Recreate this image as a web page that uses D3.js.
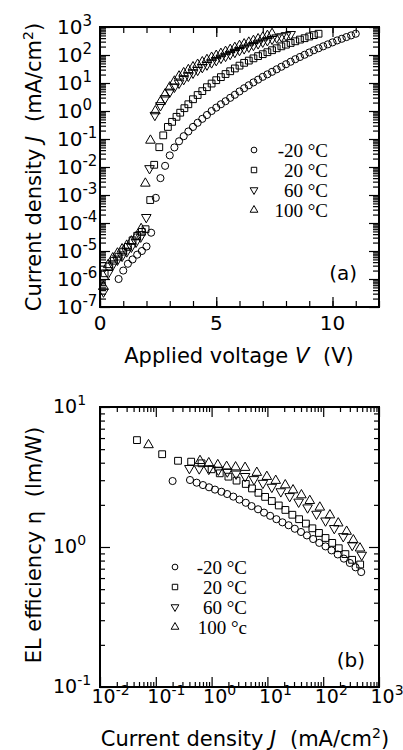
<!DOCTYPE html>
<html>
<head>
<meta charset="utf-8">
<style>
  body {
    margin: 0px;
    background-color: white;
  }
  svg {
    display: block;
  }
  text {
    font-family: "DejaVu Sans", sans-serif;
    fill: black;
  }
  .serif {
    font-family: "Liberation Serif", "Times New Roman", serif;
  }
</style>
<script src="https://d3js.org/d3.v7.min.js"></script>
</head>
<body>
<svg width="403" height="750"></svg>
<script>
// (a) J-V data: [applied voltage V, current density mA/cm2]
const ivM20 = [[0.8,1.0e-6],[1.0,2.0e-6],[1.2,3.5e-6],[1.4,5.0e-6],[1.6,7.4e-6],[1.8,1.0e-5],[2.0,1.45e-5],
  [2.2,4.5e-5],[2.4,7.9e-4],[2.6,4.0e-3],[2.8,1.1e-2],[3.0,2.6e-2],[3.2,5.0e-2],[3.4,8.3e-2],[3.6,0.126],
  [3.8,0.186],[4.0,0.27],[4.2,0.38],[4.4,0.525],[4.6,0.72],[4.8,1.0],[5.0,1.32],[5.2,1.74],[5.4,2.24],
  [5.6,2.95],[5.8,3.8],[6.0,5.0],[6.2,6.5],[6.4,8.3],[6.6,10.5],[6.8,13.2],[7.0,16.6],[7.2,20.4],[7.4,25.1],
  [7.6,30.9],[7.8,38],[8.0,46.8],[8.2,57.5],[8.4,70.8],[8.6,85],[8.8,102],[9.0,123],[9.2,148],[9.4,174],
  [9.6,204],[9.8,240],[10.0,282],[10.2,331],[10.4,380],[10.6,437],[10.8,501],[11.0,575]];
const iv20 = [[0.2,1.6e-6],[0.4,2.8e-6],[0.6,4.5e-6],[0.8,6.3e-6],[1.0,9.5e-6],[1.2,1.4e-5],[1.4,2.4e-5],
  [1.6,3.5e-5],[1.8,4.8e-5],[1.96,6.0e-5],[2.16,6.6e-4],[2.33,1.2e-2],[2.55,5.1e-2],[2.72,0.135],[2.92,0.27],
  [3.1,0.41],[3.29,0.62],[3.45,0.87],[3.63,1.26],[3.8,1.74],[4.0,2.63],[4.2,3.72],[4.4,5.13],[4.6,7.08],
  [4.8,9.55],[5.0,12.6],[5.2,16.2],[5.4,20.9],[5.6,26.3],[5.8,33.1],[6.0,41.7],[6.2,52.5],[6.4,63.1],
  [6.6,75.9],[6.8,91.2],[7.0,107],[7.2,126],[7.4,148],[7.6,174],[7.8,204],[8.0,234],[8.2,269],[8.4,309],
  [8.6,355],[8.8,398],[9.0,457],[9.2,513],[9.4,575]];
const iv60 = [[0.15,3.5e-7],[0.35,1.6e-6],[0.55,3.2e-6],[0.75,4.8e-6],[0.95,6.6e-6],[1.15,9.5e-6],[1.35,1.4e-5],
  [1.55,2.1e-5],[1.75,3.2e-5],[1.99,1.6e-4],[2.13,8.9e-3],[2.36,0.71],[2.6,1.58],[2.8,2.82],[3.0,4.8],
  [3.2,7.2],[3.4,10],[3.6,13.5],[3.8,17.8],[4.0,22.9],[4.2,28.8],[4.4,36.3],[4.6,44.7],[4.8,53.7],[5.0,64.6],
  [5.2,77.6],[5.4,91.2],[5.6,107],[5.8,126],[6.0,148],[6.2,170],[6.4,195],[6.6,224],[6.8,257],[7.0,295],
  [7.2,331],[7.4,372],[7.6,417],[7.8,457],[8.0,501],[8.2,550]];
const iv100 = [[0.15,5.4e-7],[0.35,3.2e-6],[0.55,5.6e-6],[0.75,8.3e-6],[0.95,1.17e-5],[1.15,1.58e-5],[1.35,2.24e-5],
  [1.55,3.16e-5],[1.77,6.2e-5],[1.95,2.6e-3],[2.17,8.9e-2],[2.38,1.0],[2.6,2.14],[2.8,3.98],[3.0,7.08],
  [3.2,11.5],[3.4,17.4],[3.6,22.9],[3.8,29.5],[4.0,37.2],[4.2,45.7],[4.4,56.2],[4.6,67.6],[4.8,81.3],
  [5.0,95.5],[5.2,112],[5.4,132],[5.6,155],[5.8,182],[6.0,214],[6.2,245],[6.4,282],[6.6,324],[6.8,372],
  [7.0,427],[7.2,490],[7.4,575]];

// (b) efficiency data: [current density mA/cm2, EL efficiency lm/W]
const effM20 = [[0.2,2.96],[0.41,3.01],[0.54,2.88],[0.7,2.77],[0.9,2.67],[1.15,2.57],[1.5,2.48],[1.9,2.39],
  [2.45,2.29],[3.15,2.18],[4.1,2.07],[5.2,1.96],[6.8,1.86],[8.7,1.76],[11.2,1.67],[14.5,1.58],[18.6,1.5],
  [24,1.43],[31,1.35],[40,1.28],[51,1.21],[66,1.14],[85,1.07],[110,1.01],[141,0.946],[182,0.885],
  [235,0.826],[300,0.769],[380,0.716],[480,0.662]];
const eff20 = [[0.046,5.8],[0.13,4.6],[0.25,4.13],[0.43,4.07],[0.66,3.96],[1.0,3.59],[1.4,3.36],[2.0,3.18],
  [2.8,2.98],[4.1,2.82],[5.3,2.62],[6.9,2.44],[9.1,2.28],[12,2.13],[16,1.98],[21,1.84],[28,1.7],[37,1.58],
  [49,1.47],[64,1.36],[84,1.26],[110,1.16],[145,1.07],[190,0.98],[250,0.89],[330,0.81],[460,0.75]];
const eff60 = [[0.4,3.65],[0.6,3.63],[0.89,3.6],[1.32,3.55],[1.91,3.45],[2.75,3.33],[3.98,3.2],[5.75,3.04],
  [8.3,2.86],[12,2.68],[17.4,2.49],[25.1,2.3],[36.3,2.1],[52.5,1.91],[75.9,1.72],[110,1.54],[158,1.36],
  [229,1.19],[331,1.03],[490,0.877]];
const eff100 = [[0.074,5.36],[0.62,4.13],[0.89,3.98],[1.29,3.86],[1.86,3.75],[2.69,3.72],[3.98,3.69],
  [6.46,3.4],[9.77,3.18],[14.1,2.98],[20.9,2.77],[28.8,2.55],[40.7,2.35],[57.5,2.14],[87,1.92],[132,1.69],
  [186,1.48],[263,1.29],[347,1.12],[457,0.98]];

const legendA = ["-20 °C", "20 °C", "60 °C", "100 °C"];
const legendB = ["-20 °C", "20 °C", "60 °C", "100 °c"];
const voltTicks = [0, 5, 10];
const jExpA = [3, 2, 1, 0, -1, -2, -3, -4, -5, -6, -7];
const jExpB = [-2, -1, 0, 1, 2, 3];
const etaExp = [1, 0, -1];

const svg = d3.select("svg");

const xA = d3.scaleLinear().domain([0, 12]).range([100, 379]);
const yA = d3.scaleLog().domain([1e-7, 1e3]).range([307, 27]);
const xB = d3.scaleLog().domain([1e-2, 1e3]).range([100, 379]);
const yB = d3.scaleLog().domain([0.1, 10]).range([687, 407]);

// circle, square, down triangle, up triangle
const shapes = [
  {type: d3.symbolCircle, size: 40, rot: 0},
  {type: d3.symbolSquare, size: 46, rot: 0},
  {type: d3.symbolTriangle, size: 40, rot: 180},
  {type: d3.symbolTriangle, size: 40, rot: 0}
];

function logMinor(lo, hi) {
  const out = [];
  for (let e = lo; e < hi; e++)
    for (let k = 2; k < 10; k++) out.push(k * Math.pow(10, e));
  return out;
}

function axes(x, y, xMajor, xMinor, yMajor, yMinor, major, minor) {
  const [x0, x1] = x.range(), [y0, y1] = y.range();
  const g = svg.append("g").attr("stroke-width", 1.2);
  const put = (axis, vals, size, tr) => {
    g.append("g").attr("transform", tr)
      .call(axis.tickValues(vals).tickSize(-size).tickFormat(""))
      .call(a => a.select(".domain").remove());
  };
  put(d3.axisBottom(x), xMajor, major, `translate(0,${y0})`);
  put(d3.axisBottom(x), xMinor, minor, `translate(0,${y0})`);
  put(d3.axisTop(x), xMajor, major, `translate(0,${y1})`);
  put(d3.axisTop(x), xMinor, minor, `translate(0,${y1})`);
  put(d3.axisLeft(y), yMajor, major, `translate(${x0},0)`);
  put(d3.axisLeft(y), yMinor, minor, `translate(${x0},0)`);
  put(d3.axisRight(y), yMajor, major, `translate(${x1},0)`);
  put(d3.axisRight(y), yMinor, minor, `translate(${x1},0)`);
  svg.append("rect")
    .attr("x", x0).attr("y", y1)
    .attr("width", x1 - x0).attr("height", y0 - y1)
    .attr("fill", "none").attr("stroke", "black").attr("stroke-width", 2);
}

function drawSeries(data, x, y, shape) {
  svg.append("g").selectAll("path").data(data).join("path")
    .attr("d", d3.symbol(shape.type, shape.size))
    .attr("transform", d => `translate(${x(d[0])},${y(d[1])}) rotate(${shape.rot})`)
    .attr("fill", "none")
    .attr("stroke", "black")
    .attr("stroke-width", 1);
}

function powLabel(t, e, sup) {
  t.append("tspan").text("10");
  t.append("tspan").attr("dy", -8).attr("font-size", sup).text(e);
}

// legend: one text block, one line per temperature
function legend(labels, sx, tx, y0, step) {
  labels.forEach((lab, i) => {
    const s = shapes[i];
    svg.append("path")
      .attr("d", d3.symbol(s.type, s.size * 0.65))
      .attr("transform", `translate(${sx},${y0 + i * step}) rotate(${s.rot})`)
      .attr("fill", "none").attr("stroke", "black").attr("stroke-width", 1);
  });
  const t = svg.append("text").attr("class", "serif")
    .attr("text-anchor", "end").attr("font-size", 19);
  t.selectAll("tspan").data(labels).join("tspan")
    .attr("x", tx)
    .attr("y", (d, i) => y0 + i * step + 7)
    .text(d => d);
}

// ---------- panel (a)
axes(xA, yA, voltTicks, d3.range(0, 13), jExpA.map(e => Math.pow(10, e)), logMinor(-7, 3), 10, 6);
[ivM20, iv20, iv60, iv100].forEach((d, i) => drawSeries(d, xA, yA, shapes[i]));

jExpA.forEach(e => {
  const t = svg.append("text").attr("x", 57).attr("y", yA(Math.pow(10, e)) + 7).attr("font-size", 20);
  powLabel(t, e, 15);
});
voltTicks.forEach(v => {
  svg.append("text").attr("x", xA(v)).attr("y", 330)
    .attr("text-anchor", "middle").attr("font-size", 20).text(v);
});

const tA = svg.append("text").attr("x", 239).attr("y", 363)
  .attr("text-anchor", "middle").attr("font-size", 21);
tA.append("tspan").text("Applied voltage ");
tA.append("tspan").style("font-style", "italic").text("V");
tA.append("tspan").attr("dx", 7).text(" (V)");

const yTitleA = svg.append("text").attr("transform", "translate(41,167) rotate(-90)")
  .attr("text-anchor", "middle").attr("font-size", 21);
yTitleA.append("tspan").text("Current density ");
yTitleA.append("tspan").style("font-style", "italic").text("J");
yTitleA.append("tspan").attr("dx", 7).text(" (mA/cm");
yTitleA.append("tspan").attr("dy", -8).attr("font-size", 14).text("2");
yTitleA.append("tspan").attr("dy", 8).text(")");

svg.append("text").attr("x", 357).attr("y", 280)
  .attr("text-anchor", "end").attr("font-size", 20).text("(a)");

legend(legendA, 254, 328, 150, 20);

// ---------- panel (b)
axes(xB, yB, jExpB.map(e => Math.pow(10, e)), logMinor(-2, 3), etaExp.map(e => Math.pow(10, e)), logMinor(-1, 1), 10, 5);
[effM20, eff20, eff60, eff100].forEach((d, i) => drawSeries(d, xB, yB, shapes[i]));

etaExp.forEach(e => {
  const t = svg.append("text").attr("x", 53).attr("y", yB(Math.pow(10, e)) + 6).attr("font-size", 19);
  powLabel(t, e, 14);
});
jExpB.forEach(e => {
  const t = svg.append("text").attr("x", xB(Math.pow(10, e)) - 8.5).attr("y", 703).attr("font-size", 19);
  powLabel(t, e, 14);
});

const tB = svg.append("text").attr("x", 245).attr("y", 746)
  .attr("text-anchor", "middle").attr("font-size", 21);
tB.append("tspan").text("Current density ");
tB.append("tspan").style("font-style", "italic").text("J");
tB.append("tspan").attr("dx", 7).text(" (mA/cm");
tB.append("tspan").attr("dy", -8).attr("font-size", 14).text("2");
tB.append("tspan").attr("dy", 8).text(")");

const yTitleB = svg.append("text").attr("transform", "translate(41,545) rotate(-90)")
  .attr("text-anchor", "middle").attr("font-size", 21);
yTitleB.append("tspan").text("EL efficiency η");
yTitleB.append("tspan").attr("dx", 7).text(" (lm/W)");

svg.append("text").attr("x", 365).attr("y", 667)
  .attr("text-anchor", "end").attr("font-size", 20).text("(b)");

legend(legendB, 175, 247, 567, 20);
</script>
</body>
</html>
